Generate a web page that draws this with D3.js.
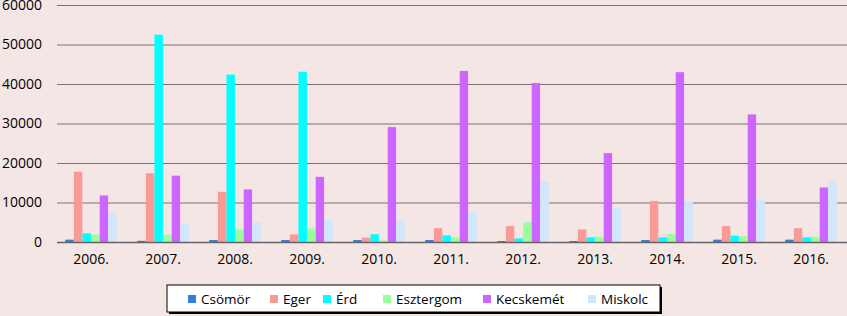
<!DOCTYPE html>
<html>
<head>
<meta charset="utf-8">
<script src="https://cdn.jsdelivr.net/npm/d3@7"></script>
<style>
  html, body { margin: 0; padding: 0; background: #f5e6e6; }
  svg { display: block; }
</style>
</head>
<body>
<div id="chart"></div>
<script>
var years = ['2006.', '2007.', '2008.', '2009.', '2010.', '2011.', '2012.', '2013.', '2014.', '2015.', '2016.'];
var cities = ['Csömör', 'Eger', 'Érd', 'Esztergom', 'Kecskemét', 'Miskolc'];
var colors = ['#2f7fe0', '#fa9a94', '#00ffff', '#99ff99', '#cc66ff', '#cfe7fb'];

var csomor    = [600, 300, 500, 500, 500, 500, 250, 250, 500, 600, 600];
var eger      = [17800, 17400, 12700, 1950, 1100, 3500, 4000, 3200, 10400, 4000, 3500];
var erd       = [2200, 52500, 42400, 43100, 1950, 1700, 900, 1200, 1200, 1600, 1200];
var esztergom = [1900, 1800, 3200, 3400, 400, 1200, 5000, 1350, 2000, 1450, 1350];
var kecskemet = [11800, 16800, 13300, 16500, 29100, 43300, 40250, 22500, 43000, 32300, 13800];
var miskolc   = [7300, 4600, 5000, 5600, 5400, 7600, 15300, 8600, 10200, 10600, 15400];

var yTicks = [0, 10000, 20000, 30000, 40000, 50000, 60000];

var series = [csomor, eger, erd, esztergom, kecskemet, miskolc];

var width = 847;
var height = 316;
var font = '"Open Sans", "Liberation Sans", sans-serif';

var svg = d3.select('#chart')
    .append('svg')
        .attr('width', width)
        .attr('height', height)
        .style('font-family', font);

var x0 = d3.scaleBand()
    .domain(years)
    .range([55, 847])
    .paddingInner(0.28)
    .paddingOuter(0.14);

var x1 = d3.scaleBand()
    .domain(cities)
    .range([0, x0.bandwidth()])
    .padding(0.02);

var y = d3.scaleLinear()
    .domain([0, 60000])
    .range([242, 5]);

// gridlines + y labels
var yAxis = d3.axisLeft(y)
    .tickValues(yTicks)
    .tickSize(-(847 - 57))
    .tickPadding(15)
    .tickFormat(d3.format('d'));

var gy = svg.append('g')
    .attr('transform', 'translate(57,0)')
    .call(yAxis)
    .attr('font-family', font);
gy.select('.domain').remove();
gy.selectAll('.tick line')
    .attr('stroke', '#7a7070')
    .attr('stroke-width', 1);
gy.selectAll('.tick text')
    .attr('font-size', '14px')
    .attr('fill', '#000');

// bars
var groups = svg.selectAll('.year')
    .data(years)
    .enter()
    .append('g')
    .attr('class', 'year')
    .attr('transform', function(d){ return 'translate(' + x0(d) + ',0)'; });

groups.selectAll('rect')
    .data(function(d, i){
        return cities.map(function(c, j){ return {city: c, value: series[j][i], color: colors[j]}; });
    })
    .enter()
    .append('rect')
    .attr('x', function(d){ return x1(d.city); })
    .attr('width', x1.bandwidth())
    .attr('y', function(d){ return y(d.value); })
    .attr('height', function(d){ return y(0) - y(d.value); })
    .attr('fill', function(d){ return d.color; });

// x axis
var xAxis = d3.axisBottom(x0)
    .tickSize(0)
    .tickPadding(12);

var gx = svg.append('g')
    .attr('transform', 'translate(0,' + y(0) + ')')
    .call(xAxis)
    .attr('font-family', font);
gx.select('.domain')
    .attr('d', 'M57,0.5H847')
    .attr('stroke', '#6a6262')
    .attr('stroke-width', 1.5);
gx.selectAll('.tick text')
    .attr('font-size', '14px')
    .attr('fill', '#000');

// legend
var legend = svg.append('g')
    .attr('class', 'legend');

legend.append('rect')
    .attr('x', 169)
    .attr('y', 287)
    .attr('width', 493)
    .attr('height', 27)
    .attr('fill', '#000');

legend.append('rect')
    .attr('x', 167)
    .attr('y', 285)
    .attr('width', 493)
    .attr('height', 27)
    .attr('fill', '#fff')
    .attr('stroke', '#000')
    .attr('stroke-width', 1);

var legendX = [188, 270, 323, 383, 483, 588];

var items = legend.selectAll('.item')
    .data(cities)
    .enter()
    .append('g')
    .attr('class', 'item')
    .attr('transform', function(d, i){ return 'translate(' + legendX[i] + ',299)'; });

items.append('rect')
    .attr('x', 0)
    .attr('y', -4)
    .attr('width', 8)
    .attr('height', 8)
    .attr('fill', function(d, i){ return colors[i]; });

items.append('text')
    .attr('x', 13)
    .attr('dy', '0.35em')
    .attr('font-size', '13.5px')
    .attr('fill', '#000')
    .text(function(d){ return d; });
</script>
</body>
</html>
